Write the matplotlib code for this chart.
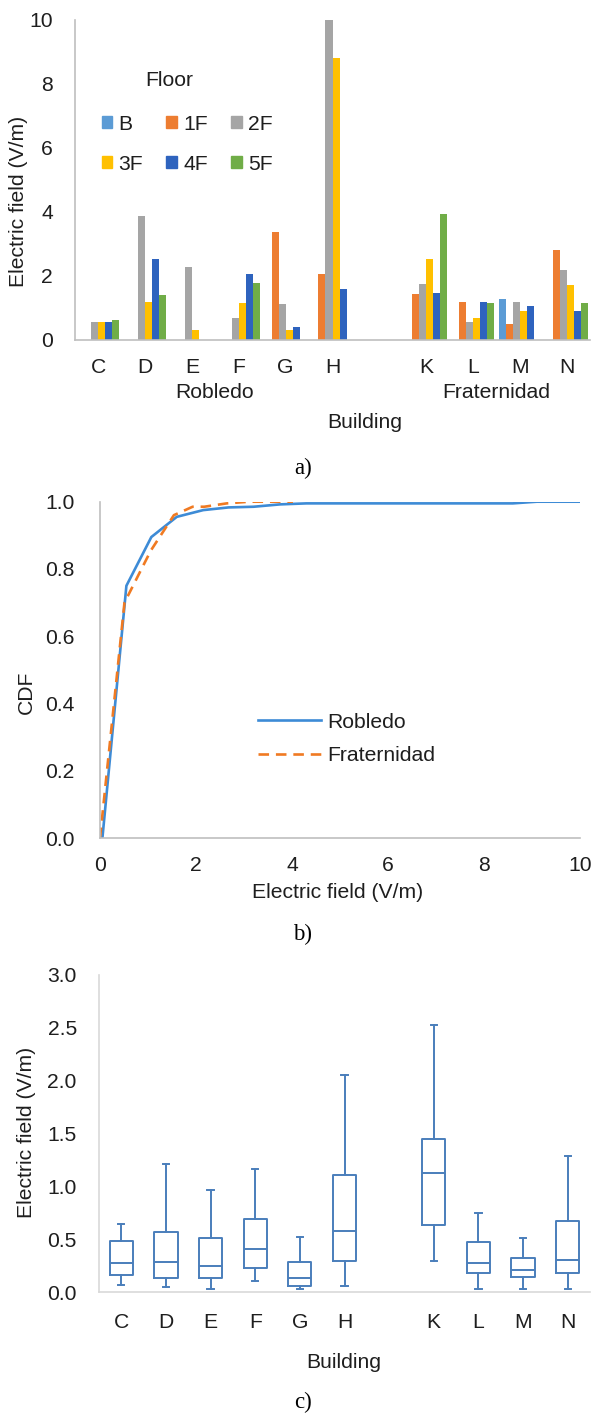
import numpy as np
import matplotlib
matplotlib.use('Agg')
import matplotlib.pyplot as plt
from matplotlib.patches import Patch

plt.rcParams['font.family'] = ['Liberation Sans', 'DejaVu Sans']

W, H = 593, 1415
TXT = '#1e1e1e'
FS = 15.2

# ---- data ----
robledo = ['C', 'D', 'E', 'F', 'G', 'H']
fraternidad = ['K', 'L', 'M', 'N']
floors = ['B', '1F', '2F', '3F', '4F', '5F']
floor_colors = ['#5B9BD5', '#ED7D31', '#A5A5A5', '#FFC000', '#2E63BE', '#70AD47']

#               C     D     E     F     G     H     K     L     M     N
field_B  = [0.00, 0.00, 0.00, 0.00, 0.00, 0.00, 0.00, 0.00, 1.27, 0.00]
field_1F = [0.00, 0.00, 0.00, 0.00, 3.36, 2.04, 1.43, 1.17, 0.49, 2.79]
field_2F = [0.56, 3.86, 2.26, 0.67, 1.11, 10.0, 1.74, 0.56, 1.17, 2.17]
field_3F = [0.56, 1.18, 0.29, 1.14, 0.29, 8.80, 2.51, 0.67, 0.89, 1.71]
field_4F = [0.56, 2.51, 0.00, 2.04, 0.38, 1.57, 1.46, 1.17, 1.04, 0.89]
field_5F = [0.60, 1.40, 0.00, 1.78, 0.00, 0.00, 3.93, 1.13, 0.00, 1.13]

rob_x = [0.05, 0.55, 1.07, 1.60, 2.15, 2.68, 3.20, 3.75, 4.30, 8.60, 9.10, 10.0]
rob_y = [0.00, 0.75, 0.895, 0.955, 0.975, 0.983, 0.985, 0.992, 0.995, 0.995, 1.0, 1.0]
fra_x = [0.00, 0.51, 1.06, 1.54, 1.93, 2.17, 2.64, 3.11, 4.02]
fra_y = [0.00, 0.70, 0.855, 0.96, 0.985, 0.985, 0.995, 1.0, 1.0]

box_med = [0.27, 0.28, 0.25, 0.41, 0.135, 0.58, 1.13, 0.27, 0.205, 0.30]
box_q1  = [0.16, 0.13, 0.13, 0.23, 0.06, 0.29, 0.63, 0.18, 0.145, 0.18]
box_q3  = [0.485, 0.57, 0.51, 0.69, 0.28, 1.11, 1.45, 0.47, 0.32, 0.67]
box_lo  = [0.066, 0.044, 0.03, 0.10, 0.025, 0.057, 0.29, 0.03, 0.025, 0.03]
box_hi  = [0.64, 1.21, 0.97, 1.16, 0.52, 2.05, 2.53, 0.75, 0.51, 1.29]

labels = robledo + fraternidad
pos = np.array(list(range(len(robledo))) + [len(robledo) + 1 + i for i in range(len(fraternidad))])


def fx(x):
    return x / W


def fy(y):
    return 1 - y / H


def style(ax, spine='#BFBFBF'):
    for s in ['top', 'right']:
        ax.spines[s].set_visible(False)
    for s in ['left', 'bottom']:
        ax.spines[s].set_color(spine)
        ax.spines[s].set_linewidth(1.2)
    ax.tick_params(length=0, labelsize=FS, colors=TXT)


fig = plt.figure(figsize=(W / 100, H / 100), dpi=100)

# ---- a) bars ----
ax1 = fig.add_axes([fx(75), fy(339.5), fx(515), 320 / H])
series = [field_B, field_1F, field_2F, field_3F, field_4F, field_5F]
bw = 0.15
for k, (vals, c) in enumerate(zip(series, floor_colors)):
    ax1.bar(pos + (k - 2.5) * bw, vals, width=bw, color=c, label=floors[k])
ax1.set_xlim(-0.5, 10.5)
ax1.set_ylim(0, 10)
ax1.set_yticks([0, 2, 4, 6, 8, 10])
ax1.set_xticks(pos)
ax1.set_xticklabels(labels)
style(ax1)
ax1.tick_params(axis='x', pad=13)
ax1.tick_params(axis='y', pad=16)

# legend filled row-wise like the original: B 1F 2F / 3F 4F 5F
order = [0, 3, 1, 4, 2, 5]
handles = [Patch(color=floor_colors[i]) for i in order]
leg = fig.legend(handles, [floors[i] for i in order], ncol=3, frameon=False,
                 loc='upper left', bbox_to_anchor=(fx(91), fy(104)),
                 fontsize=FS, handlelength=0.5, handleheight=0.5,
                 handletextpad=0.3, columnspacing=1.1, labelspacing=1.0, borderpad=0)
for t in leg.get_texts():
    t.set_color(TXT)
fig.text(fx(169), fy(80), 'Floor', ha='center', va='center', fontsize=FS, color=TXT)

fig.text(fx(19), fy(201), 'Electric field (V/m)', rotation=90, ha='center', va='center',
         fontsize=FS, color=TXT)
fig.text(fx(215), fy(392), 'Robledo', ha='center', va='center', fontsize=FS, color=TXT)
fig.text(fx(496), fy(392), 'Fraternidad', ha='center', va='center', fontsize=FS, color=TXT)
fig.text(fx(365), fy(423), 'Building', ha='center', va='center', fontsize=FS, color=TXT)
fig.text(fx(303), fy(468), 'a)', ha='center', va='center', fontsize=16.5, color='black',
         family='Liberation Serif')

# ---- b) CDF ----
ax2 = fig.add_axes([fx(100), fy(838), fx(480), 336.3 / H])
ax2.plot(rob_x, rob_y, color='#3D8BD6', lw=1.9, label='Robledo')
ax2.plot(fra_x, fra_y, color='#F07A22', lw=1.9, dashes=(4, 2.6), label='Fraternidad')
ax2.set_xlim(0, 10)
ax2.set_ylim(0, 1.0)
ax2.set_xticks([0, 2, 4, 6, 8, 10])
ax2.set_yticks([0, 0.2, 0.4, 0.6, 0.8, 1.0])
ax2.set_yticklabels(['0.0', '0.2', '0.4', '0.6', '0.8', '1.0'])
style(ax2)
ax2.tick_params(axis='x', pad=13)
ax2.tick_params(axis='y', pad=18)
leg2 = ax2.legend(frameon=False, loc='upper left', bbox_to_anchor=(fx(247), fy(702)),
                  bbox_transform=fig.transFigure, fontsize=FS, handlelength=3.0,
                  handletextpad=0.3, labelspacing=0.7, borderpad=0)
for t in leg2.get_texts():
    t.set_color(TXT)
fig.text(fx(26), fy(692), 'CDF', rotation=90, ha='center', va='center', fontsize=FS, color=TXT)
fig.text(fx(338), fy(893), 'Electric field (V/m)', ha='center', va='center', fontsize=FS, color=TXT)
fig.text(fx(303), fy(934), 'b)', ha='center', va='center', fontsize=16.5, color='black',
         family='Liberation Serif')

# ---- c) box plots ----
ax3 = fig.add_axes([fx(99), fy(1292), fx(491), 317 / H])
stats = [dict(med=m, q1=a, q3=b, whislo=lo, whishi=hi, fliers=[], label=l)
         for m, a, b, lo, hi, l in zip(box_med, box_q1, box_q3, box_lo, box_hi, labels)]
bc = '#4A7EBB'
lp = dict(color=bc, linewidth=1.4)
ax3.bxp(stats, positions=pos, widths=0.52, showfliers=False,
        boxprops=lp, whiskerprops=lp, capprops=lp, medianprops=lp,
        capwidths=0.14)
ax3.set_xlim(-0.5, 10.5)
ax3.set_ylim(0, 3.0)
ax3.set_yticks([0, 0.5, 1.0, 1.5, 2.0, 2.5, 3.0])
ax3.set_yticklabels(['0.0', '0.5', '1.0', '1.5', '2.0', '2.5', '3.0'])
style(ax3, spine='#D9D9D9')
ax3.tick_params(axis='x', pad=15)
ax3.tick_params(axis='y', pad=16)
fig.text(fx(27), fy(1132), 'Electric field (V/m)', rotation=90, ha='center', va='center',
         fontsize=FS, color=TXT)
fig.text(fx(344), fy(1363), 'Building', ha='center', va='center', fontsize=FS, color=TXT)
fig.text(fx(303), fy(1402), 'c)', ha='center', va='center', fontsize=16.5, color='black',
         family='Liberation Serif')

fig.savefig('out.png', dpi=100)
